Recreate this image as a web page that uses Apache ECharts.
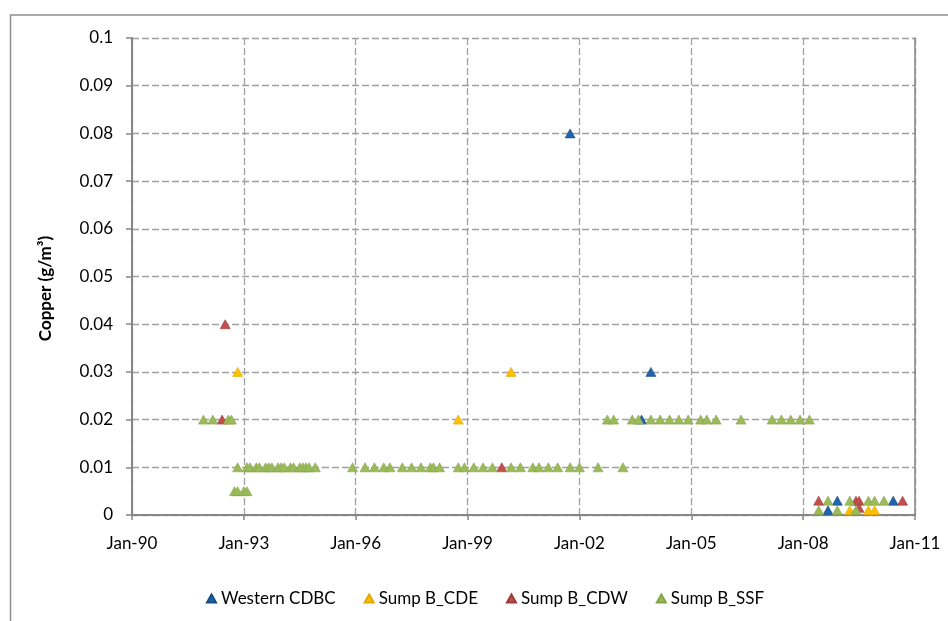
<!DOCTYPE html>
<html>
<head>
<meta charset="utf-8">
<script src="https://cdn.jsdelivr.net/npm/echarts@6/dist/echarts.min.js"></script>
<style>
  html, body { margin: 0; padding: 0; background: #fff; }
  #chart { width: 948px; height: 621px; }
</style>
</head>
<body>
<div id="chart"></div>
<script>
// sample dates (year-month) and copper concentrations (g/m3)
var cdbcDates  = ['2001-10', '2003-09', '2003-12', '2008-09', '2008-12', '2010-06'];
var cdbcValues = [0.08, 0.02, 0.03, 0.001, 0.003, 0.003];

var cdeDates  = ['1992-11', '1998-10', '2000-03', '2009-04', '2009-10', '2009-12'];
var cdeValues = [0.03, 0.02, 0.03, 0.001, 0.001, 0.001];

var cdwDates  = ['1992-06', '1992-07', '1999-12', '2008-06', '2009-06', '2009-07', '2009-07', '2010-09'];
var cdwValues = [0.02, 0.04, 0.01, 0.003, 0.003, 0.003, 0.0015, 0.003];

var ssfDates = [
  '1991-12', '1992-03', '1992-08', '1992-09',
  '1992-10', '1992-11', '1993-01', '1993-02',
  '1992-11', '1993-02', '1993-03', '1993-05', '1993-06', '1993-08', '1993-09', '1993-10', '1993-12',
  '1994-01', '1994-02', '1994-04', '1994-05', '1994-07', '1994-08', '1994-09', '1994-10', '1994-12',
  '1995-12', '1996-04', '1996-07', '1996-10', '1996-12', '1997-04', '1997-07', '1997-10',
  '1998-01', '1998-02', '1998-04', '1998-10', '1998-12', '1999-03', '1999-06', '1999-09',
  '2000-03', '2000-06', '2000-10', '2000-12', '2001-03', '2001-06', '2001-10', '2002-01',
  '2002-07', '2003-03',
  '2002-10', '2002-12', '2003-06', '2003-08', '2003-12', '2004-03', '2004-06', '2004-09', '2004-12',
  '2005-04', '2005-06', '2005-09', '2006-05', '2007-03', '2007-06', '2007-09', '2007-12', '2008-03',
  '2008-09', '2009-04', '2009-10', '2009-12', '2010-03',
  '2008-06', '2008-12', '2009-06'
];
var ssfValues = [
  0.02, 0.02, 0.02, 0.02,
  0.005, 0.005, 0.005, 0.005,
  0.01, 0.01, 0.01, 0.01, 0.01, 0.01, 0.01, 0.01, 0.01,
  0.01, 0.01, 0.01, 0.01, 0.01, 0.01, 0.01, 0.01, 0.01,
  0.01, 0.01, 0.01, 0.01, 0.01, 0.01, 0.01, 0.01,
  0.01, 0.01, 0.01, 0.01, 0.01, 0.01, 0.01, 0.01,
  0.01, 0.01, 0.01, 0.01, 0.01, 0.01, 0.01, 0.01,
  0.01, 0.01,
  0.02, 0.02, 0.02, 0.02, 0.02, 0.02, 0.02, 0.02, 0.02,
  0.02, 0.02, 0.02, 0.02, 0.02, 0.02, 0.02, 0.02, 0.02,
  0.003, 0.003, 0.003, 0.003, 0.003,
  0.001, 0.001, 0.001
];

var startYear = 1990;
var yearSpan = 21;

function toX(d) {
  var p = d.split('-');
  return Number(p[0]) + (Number(p[1]) - 1) / 12 - startYear;
}
function pairs(dates, values) {
  return dates.map(function (d, i) { return [toX(d), values[i]]; });
}

var font = 'Lato, "Noto Sans", sans-serif';

function series(name, color, border, dates, values) {
  return {
    name: name,
    type: 'scatter',
    symbol: 'triangle',
    symbolSize: [10, 9],
    itemStyle: { color: color, borderColor: border, borderWidth: 0.6, opacity: 1 },
    data: pairs(dates, values)
  };
}

var chart = echarts.init(document.getElementById('chart'));

var option = {
  backgroundColor: '#fff',
  animation: false,
  graphic: [{
    type: 'rect',
    shape: { x: 10.5, y: 15, width: 960, height: 640 },
    style: { fill: null, stroke: '#8e8e8e', lineWidth: 1.5 },
    silent: true
  }],
  grid: { left: 132, right: 33, top: 38, bottom: 106 },
  legend: {
    left: 201,
    top: 585,
    icon: 'triangle',
    itemWidth: 9,
    itemHeight: 8,
    itemGap: 28,
    textStyle: { fontFamily: font, fontSize: 17, color: '#000' },
    data: ['Western CDBC', 'Sump B_CDE', 'Sump B_CDW', 'Sump B_SSF']
  },
  xAxis: {
    type: 'value',
    min: 0,
    max: yearSpan,
    interval: 3,
    axisLine: { lineStyle: { color: '#868686', width: 2 } },
    axisTick: { show: true, length: 5, lineStyle: { color: '#868686', width: 1.5 } },
    axisLabel: {
      margin: 20,
      fontFamily: font,
      fontSize: 17,
      color: '#000',
      formatter: function (v) {
        var yy = (startYear + v) % 100;
        return 'Jan-' + (yy < 10 ? '0' + yy : yy);
      }
    },
    splitLine: { show: true, lineStyle: { color: '#a0a0a0', type: [7, 3], width: 1.3 } }
  },
  yAxis: [{
    type: 'value',
    min: 0,
    max: 0.1,
    interval: 0.01,
    name: 'Copper (g/m\u00b3)',
    nameLocation: 'middle',
    nameGap: 78,
    nameTextStyle: { fontFamily: font, fontSize: 17, fontWeight: 'bold', color: '#000', padding: [0, 24, 0, 0] },
    axisLine: { show: true, lineStyle: { color: '#868686', width: 2 } },
    axisTick: { show: true, length: 6, lineStyle: { color: '#868686', width: 1.5 } },
    axisLabel: { margin: 19, fontFamily: font, fontSize: 17, color: '#000' },
    splitLine: { show: true, lineStyle: { color: '#a0a0a0', type: [7, 3], width: 1.3 } }
  }, {
    type: 'value',
    position: 'right',
    min: 0,
    max: 0.1,
    axisLine: { show: true, lineStyle: { color: '#868686', width: 1.5 } },
    axisTick: { show: false },
    axisLabel: { show: false },
    splitLine: { show: false }
  }],
  series: [
    series('Western CDBC', '#1f64ad', '#164c86', cdbcDates, cdbcValues),
    series('Sump B_CDE', '#ffc000', '#e0a800', cdeDates, cdeValues),
    series('Sump B_CDW', '#c0504d', '#9c3c3a', cdwDates, cdwValues),
    series('Sump B_SSF', '#9bbb59', '#86a34a', ssfDates, ssfValues)
  ]
};

chart.setOption(option);
</script>
</body>
</html>
